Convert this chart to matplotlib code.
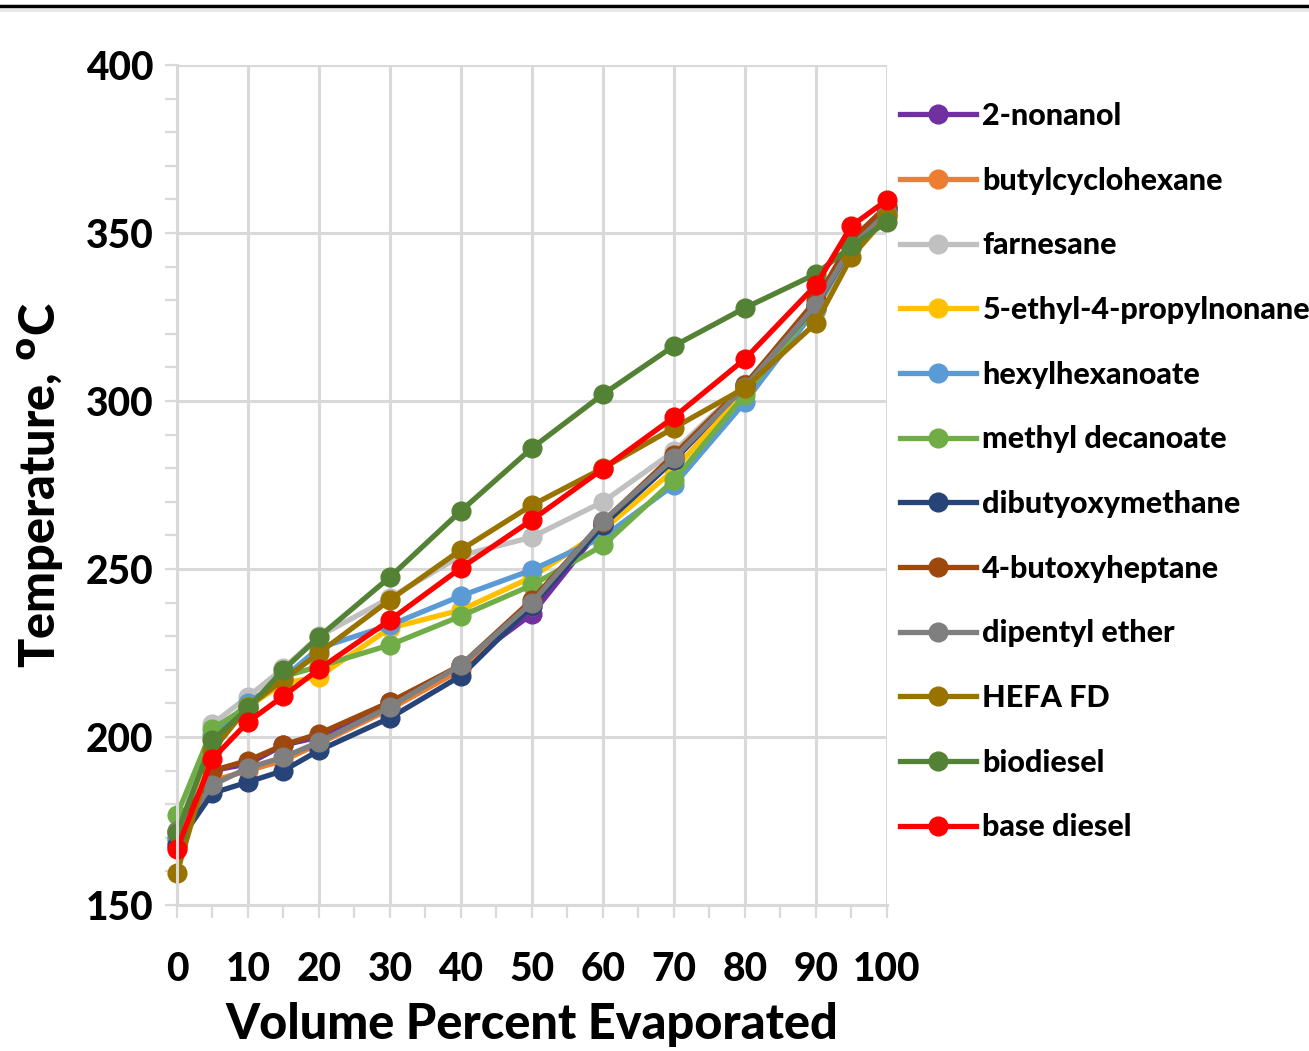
import matplotlib
matplotlib.use("Agg")
import matplotlib.pyplot as plt
from matplotlib.lines import Line2D
from matplotlib.ticker import MultipleLocator

plt.rcParams['font.family'] = ['Lato', 'DejaVu Sans']

x = [0, 5, 10, 15, 20, 30, 40, 50, 60, 70, 80, 90, 95, 100]

names = ["2-nonanol", "butylcyclohexane", "farnesane", "5-ethyl-4-propylnonane",
         "hexylhexanoate", "methyl decanoate", "dibutyoxymethane", "4-butoxyheptane",
         "dipentyl ether", "HEFA FD", "biodiesel", "base diesel"]
colors = ["#7030A0", "#ED7D31", "#C0C0C0", "#FFC000", "#5B9BD5", "#70AD47",
          "#264478", "#9E480E", "#7F7F7F", "#997300", "#548235", "#FF0000"]

nonanol = [170, 190, 192, 197.6, 200, 210.4, 221, 236.6, 263, 282.4, 303.9, 327.7, 346, 357]
butylcyclohexane = [167, 187, 190, 193, 198, 208.3, 220, 239, 263.7, 283.3, 304, 328, 346.4, 357]
farnesane = [170, 203.9, 212, 220.5, 230, 241.4, 254, 259.5, 270, 285, 305, 328.6, 346, 357.7]
ethylpropylnonane = [168, 199.7, 209, 216, 218, 232.4, 237.8, 247.6, 261.6, 279.5, 302.7, 327, 345.5, 356]
hexylhexanoate = [169, 200.6, 210, 217.6, 226.5, 233.3, 242, 249.7, 259.5, 275, 299.7, 327.4, 345.5, 357]
methyl_decanoate = [176.8, 202.4, 209.2, 218, 221, 227.4, 236, 245.2, 257, 276.5, 301.8, 328.3, 346, 355]
dibutoxymethane = [168, 183.3, 186.6, 190, 196, 205.7, 218.2, 239, 263, 282.4, 304.8, 328.3, 346, 357]
butoxyheptane = [172, 190, 193, 197.6, 201, 210.4, 221.4, 240.8, 264, 284, 304.8, 330, 348, 358]
dipentyl_ether = [172, 185.7, 190.8, 194, 198.5, 209, 221.4, 240, 264.3, 283, 304.2, 328.6, 346, 356]
hefa_fd = [159.5, 196, 209, 217, 225, 240.8, 255.7, 269, 280, 292, 303.9, 323.2, 342.9, 355]
biodiesel = [171.4, 199, 208.6, 220, 229.8, 247.6, 267.3, 286, 302, 316.4, 327.7, 337.8, 346.1, 353.3]
base_diesel = [166.7, 193.5, 204.5, 212.2, 220.2, 234.8, 250.3, 264.6, 279.8, 295.2, 312.5, 334.5, 352.1, 359.8]

series = [nonanol, butylcyclohexane, farnesane, ethylpropylnonane, hexylhexanoate,
          methyl_decanoate, dibutoxymethane, butoxyheptane, dipentyl_ether,
          hefa_fd, biodiesel, base_diesel]

xticks = [0, 10, 20, 30, 40, 50, 60, 70, 80, 90, 100]
yticks = [150, 200, 250, 300, 350, 400]

W = 'black'

fig = plt.figure(figsize=(13.09, 10.51), dpi=100)
ax = fig.add_axes([0.1352, 0.1389, 0.6776 - 0.1352, 0.9382 - 0.1389])

for name, c, y in zip(names, colors, series):
    ax.plot(x, y, color=c, lw=3.8, marker='o', ms=13.5, label=name, clip_on=False)

ax.set_xlim(0, 100)
ax.set_ylim(150, 400)
ax.set_xticks(xticks)
ax.set_yticks(yticks)
ax.xaxis.set_minor_locator(MultipleLocator(5))
ax.yaxis.set_minor_locator(MultipleLocator(10))
ax.grid(True, which='major', color='#D9D9D9', lw=2.2)
ax.set_axisbelow(True)
for s in ['top', 'right']:
    ax.spines[s].set_visible(False)
for s in ['left', 'bottom']:
    ax.spines[s].set_color('#D9D9D9')
    ax.spines[s].set_linewidth(2.2)
ax.tick_params(which='both', direction='out', color='#D9D9D9', width=1.6, length=9)
ax.tick_params(axis='y', which='major', labelsize=28, pad=8)
ax.tick_params(axis='x', which='major', labelsize=28, pad=24)
for lab in ax.get_xticklabels() + ax.get_yticklabels():
    lab.set_fontweight(W)

ax.set_xlabel("Volume Percent Evaporated", fontsize=35, fontweight=W, labelpad=10)
ax.set_ylabel("Temperature, $^{\\mathbf{o}}$C", fontsize=35, fontweight=W, labelpad=14)

leg = ax.legend(loc='upper left', bbox_to_anchor=(0.6875, 0.903), bbox_transform=fig.transFigure,
                frameon=False, fontsize=22, handlelength=2.5, handletextpad=0.2,
                labelspacing=1.2, borderaxespad=0, borderpad=0)
for t in leg.get_texts():
    t.set_fontweight(W)

fig.add_artist(Line2D([0, 1], [0.9945, 0.9945], transform=fig.transFigure, color='black', lw=2.5))
fig.add_artist(Line2D([0, 1], [0.9905, 0.9905], transform=fig.transFigure, color='#E6E6E6', lw=2))

fig.savefig("out.png", dpi=100)
